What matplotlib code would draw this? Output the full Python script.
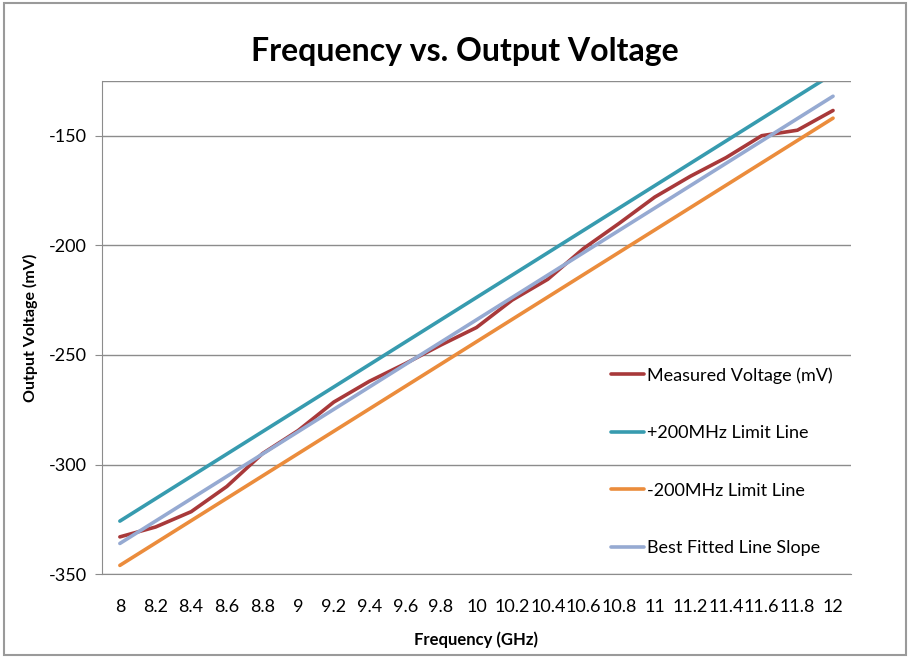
import matplotlib
matplotlib.use("Agg")
import matplotlib.pyplot as plt
from matplotlib.patches import Rectangle

plt.rcParams['font.family'] = ['Lato', 'DejaVu Sans']
plt.rcParams['axes.unicode_minus'] = False

freqs = ["8", "8.2", "8.4", "8.6", "8.8", "9", "9.2", "9.4", "9.6", "9.8", "10",
         "10.2", "10.4", "10.6", "10.8", "11", "11.2", "11.4", "11.6", "11.8", "12"]

measured = [-333, -328.5, -321.5, -310, -295, -284.5, -271.5, -262, -254, -245.5, -237.5,
            -225, -215.5, -201.5, -190, -178, -168.5, -160, -150, -147.5, -138.5]
upper_limit = [-325.8, -315.6, -305.4, -295.2, -285, -274.8, -264.6, -254.4, -244.2, -234, -223.8,
               -213.6, -203.4, -193.2, -183, -172.8, -162.6, -152.4, -142.2, -132, -121.8]
lower_limit = [-346, -335.8, -325.6, -315.4, -305.2, -295, -284.8, -274.6, -264.4, -254.2, -244,
               -233.8, -223.6, -213.4, -203.2, -193, -182.8, -172.6, -162.4, -152.2, -142]
best_fit = [-336, -325.8, -315.6, -305.4, -295.2, -285, -274.8, -264.6, -254.4, -244.2, -234,
            -223.8, -213.6, -203.4, -193.2, -183, -172.8, -162.6, -152.4, -142.2, -132]

series = [
    ("Measured Voltage (mV)", measured, "#A8393A"),
    ("+200MHz Limit Line", upper_limit, "#379BAF"),
    ("-200MHz Limit Line", lower_limit, "#EB8C3C"),
    ("Best Fitted Line Slope", best_fit, "#96AAD2"),
]

fig = plt.figure(figsize=(9.11, 6.63), dpi=100)
ax = fig.add_axes([0.112, 0.134, 0.822, 0.744])

x = range(len(freqs))
for name, vals, color in series:
    ax.plot(x, vals, color=color, lw=2.6, label=name, solid_capstyle="round")

ax.set_xlim(-0.5, len(freqs) - 0.5)
ax.set_ylim(-350, -125)
ax.set_yticks([-350, -300, -250, -200, -150])
ax.set_xticks(list(x))
ax.set_xticklabels(freqs)
ax.yaxis.grid(True, color="#8c8c8c", lw=1)
ax.set_axisbelow(True)
ax.axhline(-125, color="#8c8c8c", lw=1)

for s in ["top", "right"]:
    ax.spines[s].set_visible(False)
ax.spines["left"].set_color("#8c8c8c")
ax.spines["bottom"].set_color("#8c8c8c")
ax.tick_params(axis="y", length=5, color="#8c8c8c", labelsize=13, pad=6)
ax.tick_params(axis="x", length=0, labelsize=13, pad=18)

fig.text(0.51, 0.922, "Frequency vs. Output Voltage", fontsize=23, fontweight="bold",
         ha="center", va="center")
ax.set_xlabel("Frequency (GHz)", fontsize=12, fontweight="bold", labelpad=12)
ax.set_ylabel("Output Voltage (mV)", fontsize=11.5, fontweight="bold", labelpad=8)

ax.legend(loc="lower right", bbox_to_anchor=(1.0, 0.0), frameon=False, fontsize=13,
          handlelength=1.8, handletextpad=0.2, labelspacing=2.3, borderaxespad=0.6)

fig.patches.append(Rectangle((0.004, 0.012), 0.99, 0.984, transform=fig.transFigure,
                             fill=False, edgecolor="#9a9a9a", lw=1.5))

fig.savefig("out.png", dpi=100)
